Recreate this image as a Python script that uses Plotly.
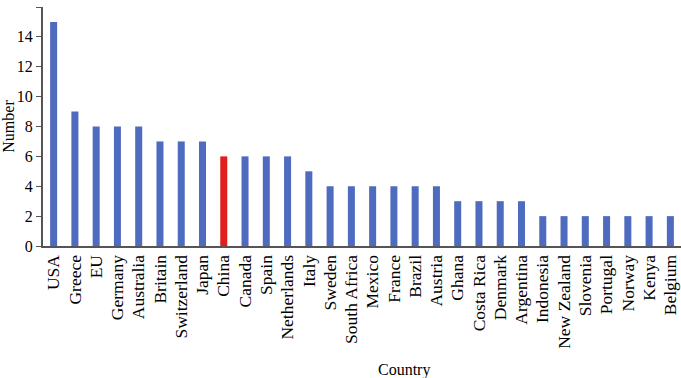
import plotly.graph_objects as go

countries = ["USA", "Greece", "EU", "Germany", "Australia", "Britain", "Switzerland", "Japan",
             "China", "Canada", "Spain", "Netherlands", "Italy", "Sweden", "South Africa", "Mexico",
             "France", "Brazil", "Austria", "Ghana", "Costa Rica", "Denmark", "Argentina",
             "Indonesia", "New Zealand", "Slovenia", "Portugal", "Norway", "Kenya", "Belgium"]
counts = [15, 9, 8, 8, 8, 7, 7, 7, 6, 6, 6, 6, 5, 4, 4, 4, 4, 4, 4, 3, 3, 3, 3, 2, 2, 2, 2, 2, 2, 2]
highlight = "China"

colors = ["#e0201c" if c == highlight else "#4f6bbf" for c in countries]

fig = go.Figure(go.Bar(x=countries, y=counts, marker=dict(color=colors, line=dict(width=0)),
                       width=0.33))

font = "Liberation Serif, Times New Roman, serif"
fig.update_layout(
    width=681, height=378,
    margin=dict(l=43, r=0, t=7, b=132),
    paper_bgcolor="white", plot_bgcolor="white",
    font=dict(family=font, size=16, color="black"),
    showlegend=False,
    xaxis=dict(tickangle=-90, showline=True, linecolor="#555555", linewidth=2,
               ticks="", showgrid=False, tickfont=dict(size=17.5), automargin=False,
               range=[-0.5, 29.5]),
    yaxis=dict(range=[0, 16], dtick=2, showline=True, linecolor="#555555", linewidth=2,
               ticks="outside", ticklen=5, tickcolor="#555555", showgrid=False, zeroline=False,
               tickfont=dict(size=16), automargin=False,
               title=dict(text="Number", font=dict(size=16), standoff=8)),
    annotations=[dict(text="Country", xref="paper", yref="paper", x=0.566, y=-0.519,
                      xanchor="center", yanchor="middle", showarrow=False,
                      font=dict(size=16))],
)

fig.write_html("out.html", config={"displayModeBar": False},
               post_script="document.body.style.margin='0';document.body.style.overflow='hidden';")
